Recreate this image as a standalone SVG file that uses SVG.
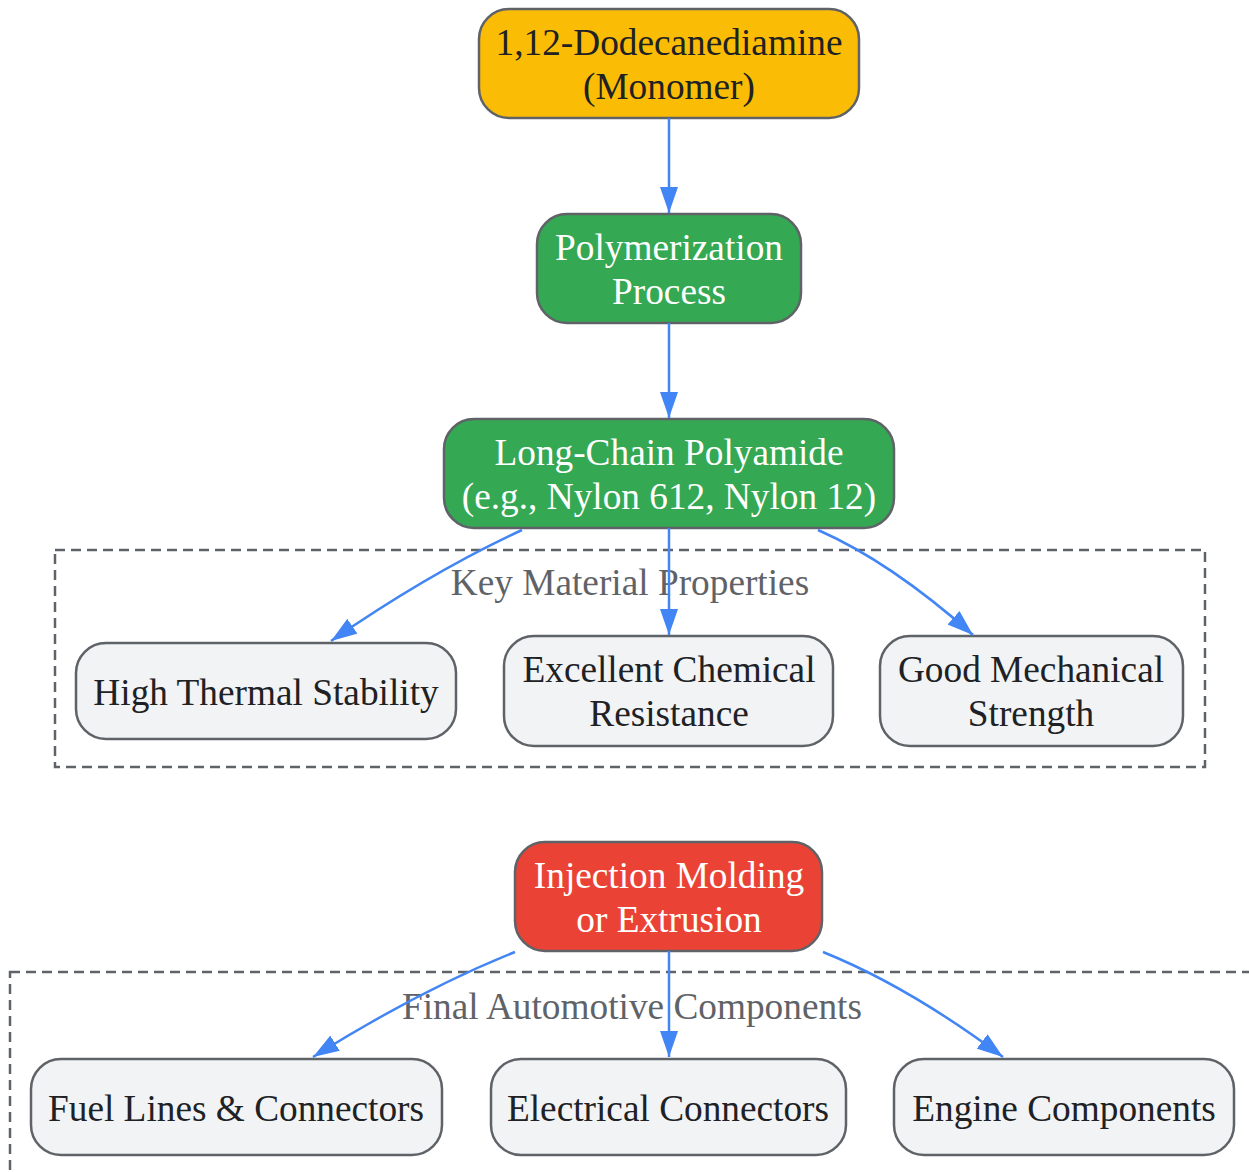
<svg xmlns="http://www.w3.org/2000/svg" width="1249" height="1172" viewBox="0 0 1249 1172">
<style>
text{font-family:"Liberation Serif","Times New Roman",serif;font-size:37.3px;text-anchor:middle}
.n{stroke:#5f6368;stroke-width:2.5}
.y{fill:#FBBC05}.g{fill:#34A853}.r{fill:#EA4335}.w{fill:#F1F3F4}
.dk{fill:#202124}.wt{fill:#ffffff}
.cl{fill:none;stroke:#5f6368;stroke-width:2.5;stroke-dasharray:10,6}
.cls{fill:#5f6368}
.e{fill:none;stroke:#4285F4;stroke-width:2.5;marker-end:url(#ah)}
</style>
<defs>
<marker id="ah" markerUnits="userSpaceOnUse" markerWidth="26" markerHeight="18" refX="26" refY="9" orient="auto">
<path d="M0,0 L26,9 L0,18 z" fill="#4285F4"/>
</marker>
</defs>
<g id="clusters">
<g id="cluster-props">
<rect class="cl" x="55" y="550" width="1150" height="217"/>
<text class="cls" x="630" y="595">Key Material Properties</text>
</g>
<g id="cluster-components">
<rect class="cl" x="10" y="972" width="1245" height="230"/>
<text class="cls" x="632" y="1019">Final Automotive Components</text>
</g>
</g>
<g id="nodes">
<g id="monomer"><rect class="n y" x="479" y="9" width="380" height="109" rx="30"/><text class="dk" x="669" y="55">1,12-Dodecanediamine</text><text class="dk" x="669" y="99">(Monomer)</text></g>
<g id="polymerization"><rect class="n g" x="537" y="214" width="264" height="109" rx="30"/><text class="wt" x="669" y="260">Polymerization</text><text class="wt" x="669" y="304">Process</text></g>
<g id="polyamide"><rect class="n g" x="444" y="419" width="450" height="109" rx="30"/><text class="wt" x="669" y="465">Long-Chain Polyamide</text><text class="wt" x="669" y="509">(e.g., Nylon 612, Nylon 12)</text></g>
<g id="thermal"><rect class="n w" x="76" y="643" width="380" height="96" rx="30"/><text class="dk" x="266" y="705">High Thermal Stability</text></g>
<g id="chemical"><rect class="n w" x="504" y="636" width="329" height="110" rx="30"/><text class="dk" x="669" y="682">Excellent Chemical</text><text class="dk" x="669" y="726">Resistance</text></g>
<g id="mechanical"><rect class="n w" x="880" y="636" width="303" height="110" rx="30"/><text class="dk" x="1031" y="682">Good Mechanical</text><text class="dk" x="1031" y="726">Strength</text></g>
<g id="molding"><rect class="n r" x="515" y="842" width="307" height="109" rx="30"/><text class="wt" x="669" y="888">Injection Molding</text><text class="wt" x="669" y="932">or Extrusion</text></g>
<g id="fuel"><rect class="n w" x="31" y="1059" width="411" height="96" rx="30"/><text class="dk" x="236" y="1121">Fuel Lines &amp; Connectors</text></g>
<g id="electrical"><rect class="n w" x="491" y="1059" width="355" height="96" rx="30"/><text class="dk" x="668" y="1121">Electrical Connectors</text></g>
<g id="engine"><rect class="n w" x="894" y="1059" width="340" height="96" rx="30"/><text class="dk" x="1064" y="1121">Engine Components</text></g>
</g>
<g id="edges">
<path class="e" d="M669,118 L669,213"/>
<path class="e" d="M669,323 L669,418"/>
<path class="e" d="M522,530 C470,554 405,590 331,641"/>
<path class="e" d="M669,528 L669,635"/>
<path class="e" d="M818,530 C866,551 920,588 973,635"/>
<path class="e" d="M515,952 C455,976 385,1012 313,1057"/>
<path class="e" d="M669,951 L669,1057"/>
<path class="e" d="M823,952 C880,975 940,1010 1003,1057"/>
</g>
</svg>
